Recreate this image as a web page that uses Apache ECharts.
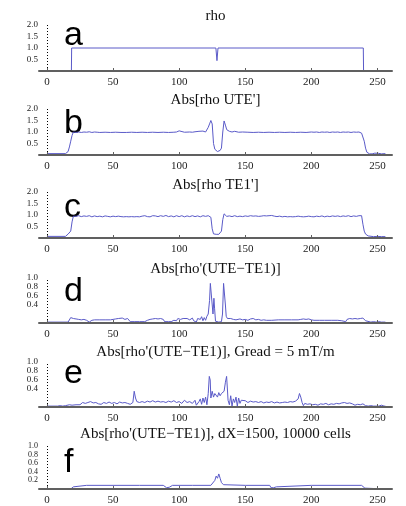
<!DOCTYPE html>
<html><head><meta charset="utf-8">
<script src="https://cdn.jsdelivr.net/npm/echarts@6/dist/echarts.min.js"></script>
<style>html,body{margin:0;padding:0;background:#fff}#c{width:406px;height:506px}</style>
</head><body><div id="c"></div>
<script>
const titles = ["rho", "Abs[rho UTE']", "Abs[rho TE1']", "Abs[rho'(UTE\u2212TE1)]", "Abs[rho'(UTE\u2212TE1)], Gread = 5 mT/m", "Abs[rho'(UTE\u2212TE1)], dX=1500, 10000 cells"];
const letters = ["a", "b", "c", "d", "e", "f"];
const xTicks = [0, 50, 100, 150, 200, 250];
const yTicks2 = [0.5, 1.0, 1.5, 2.0];
const yTicks1 = [0.4, 0.6, 0.8, 1.0];
const yTicksF = [0.2, 0.4, 0.6, 0.8, 1.0];

const rho = [[0,0],[18.5,0],[18.7,1],[127.8,1],[128.6,0.45],[129.4,1],[239.3,1],[239.5,0],[256,0]];

const rhoUTE = [[0,0.06],[14,0.06],[15,0.08],[16,0.15],[17,0.35],[18,0.6],[19,0.85],[20,1.0],[22,0.98],[24,1.0],[26,0.98],[28,1.0],[30,0.99],[32,1.01],[34,0.98],[36,1.0],[38,0.99],[40,0.98],[44,0.99],[48,0.98],[52,0.99],[56,0.98],[60,0.98],[64,0.99],[68,0.98],[72,0.99],[76,0.98],[80,0.99],[84,0.98],[88,0.99],[92,0.98],[96,0.99],[98,1.0],[100,1.05],[101,0.99],[104,0.99],[108,1.0],[110,0.99],[112,1.01],[115,1.03],[116,0.99],[118,1.04],[120,1.0],[121,1.05],[122,1.2],[123,1.35],[124,1.5],[125,1.35],[126,0.5],[127,0.25],[128,0.18],[129,0.15],[130,0.15],[131,0.2],[132,0.3],[133,1.0],[134,1.48],[135,1.3],[136,1.1],[137,1.05],[138,1.03],[139,1.05],[140,1.0],[142,1.03],[143,0.98],[145,0.99],[148,1.0],[152,0.99],[156,0.98],[160,0.99],[164,0.98],[168,0.99],[172,0.98],[176,0.99],[180,0.98],[184,0.99],[188,0.98],[192,0.99],[196,0.98],[200,1.0],[202,0.99],[204,1.0],[206,0.98],[208,1.0],[210,0.99],[212,1.0],[214,0.98],[216,1.0],[218,0.99],[220,1.0],[222,0.98],[224,1.0],[226,0.99],[228,1.0],[230,0.98],[232,1.0],[234,0.99],[236,1.0],[237,1.0],[238,0.95],[239,0.9],[240,0.6],[241,0.3],[242,0.12],[243,0.07],[244,0.05],[246,0.05],[248,0.08],[249,0.05],[251,0.07],[253,0.05],[256,0.06]];

const rhoTE1 = [[0,0.07],[14,0.07],[15,0.1],[16,0.17],[17,0.22],[18,0.3],[19,0.7],[20,0.95],[21,1.0],[22,0.94],[24,0.97],[26,0.93],[28,0.96],[30,0.94],[32,0.97],[34,0.92],[36,0.96],[38,0.93],[40,0.95],[42,0.92],[44,0.96],[46,0.94],[48,0.92],[50,0.95],[52,0.93],[54,0.95],[56,0.93],[58,0.92],[60,0.93],[62,0.92],[64,0.93],[66,0.92],[68,0.93],[70,0.92],[72,0.95],[74,0.97],[76,0.93],[78,0.92],[80,0.97],[82,0.96],[84,0.93],[86,0.97],[88,0.94],[90,0.98],[92,0.93],[94,0.96],[96,0.92],[98,0.97],[100,0.93],[102,0.97],[104,0.92],[106,0.96],[108,0.93],[110,0.97],[112,0.93],[114,0.96],[116,0.92],[118,0.97],[120,0.94],[122,0.97],[123,1.05],[124,0.9],[125,0.4],[126,0.18],[127,0.16],[128,0.16],[130,0.16],[131,0.18],[132,0.3],[133,0.8],[134,1.05],[135,0.98],[136,0.94],[138,0.96],[140,0.93],[142,0.97],[144,0.93],[146,0.95],[148,0.93],[150,0.96],[152,0.94],[154,0.97],[156,0.95],[158,0.96],[160,0.94],[162,0.95],[164,0.97],[166,0.96],[168,0.97],[170,0.98],[172,0.95],[174,0.93],[176,0.95],[178,0.92],[180,0.94],[182,0.92],[184,0.93],[186,0.92],[188,0.93],[190,0.95],[192,0.93],[194,0.92],[196,0.93],[198,0.95],[200,0.93],[202,0.92],[204,0.95],[206,0.93],[208,0.96],[210,0.92],[212,0.95],[214,0.93],[216,0.96],[218,0.94],[220,0.96],[222,0.93],[224,0.96],[226,0.94],[228,0.97],[230,0.93],[232,0.96],[234,0.94],[236,0.97],[237,0.92],[238,0.97],[239,0.6],[240,0.3],[241,0.17],[242,0.14],[243,0.09],[244,0.07],[247,0.06],[250,0.07],[253,0.06],[256,0.06]];

const diff = [[0,0.02],[16,0.02],[17,0.04],[18,0.12],[19,0.08],[20,0.1],[21,0.07],[22,0.09],[23,0.06],[24,0.08],[25,0.1],[26,0.07],[27,0.09],[28,0.08],[29,0.1],[30,0.06],[31,0.03],[32,0.02],[33,0.03],[34,0.06],[36,0.07],[40,0.07],[44,0.07],[48,0.07],[50,0.08],[52,0.09],[54,0.1],[55,0.08],[57,0.11],[59,0.08],[61,0.1],[62,0.07],[63,0.03],[66,0.03],[70,0.03],[74,0.03],[76,0.06],[78,0.08],[80,0.09],[82,0.1],[84,0.09],[86,0.1],[88,0.08],[89,0.03],[92,0.03],[94,0.03],[96,0.06],[97,0.09],[98,0.05],[99,0.1],[100,0.12],[101,0.08],[103,0.1],[104,0.06],[106,0.1],[107,0.12],[108,0.07],[110,0.11],[111,0.05],[112,0.09],[113,0.02],[114,0.1],[115,0.13],[116,0.08],[117,0.14],[118,0.05],[119,0.12],[120,0.06],[121,0.15],[122,0.2],[123,0.5],[123.6,0.88],[124.3,0.9],[125,0.85],[125.6,0.2],[126.3,0.55],[126.8,0.33],[127.5,0.04],[128,0.02],[130,0.02],[132,0.03],[132.8,0.2],[133.6,0.88],[134.4,0.88],[135,0.4],[135.6,0.15],[136.5,0.1],[137,0.14],[138,0.12],[139,0.1],[140,0.12],[141,0.08],[142,0.1],[143,0.07],[144,0.06],[146,0.09],[148,0.07],[150,0.08],[152,0.06],[154,0.09],[156,0.1],[158,0.07],[160,0.08],[162,0.06],[164,0.07],[166,0.06],[170,0.06],[175,0.07],[180,0.07],[185,0.07],[190,0.07],[192,0.08],[194,0.09],[196,0.08],[198,0.09],[200,0.07],[202,0.06],[206,0.06],[210,0.06],[215,0.06],[220,0.06],[223,0.05],[224,0.02],[226,0.03],[227,0.08],[229,0.1],[231,0.09],[233,0.1],[235,0.09],[237,0.1],[239,0.11],[240,0.13],[241,0.05],[242,0.02],[245,0.02],[247,0.03],[249,0.02],[251,0.03],[253,0.02],[256,0.02]];

const diffG = [[0,0.02],[8,0.02],[10,0.03],[12,0.02],[14,0.03],[15,0.06],[17,0.05],[19,0.04],[20,0.06],[22,0.05],[23,0.08],[25,0.05],[27,0.1],[29,0.08],[31,0.1],[33,0.12],[35,0.09],[37,0.1],[39,0.07],[41,0.06],[43,0.1],[45,0.08],[47,0.11],[49,0.08],[51,0.1],[53,0.07],[55,0.11],[57,0.09],[59,0.1],[61,0.08],[63,0.06],[64,0.02],[65,0.1],[66,0.35],[67,0.2],[68,0.12],[70,0.1],[72,0.12],[74,0.1],[76,0.13],[78,0.11],[80,0.14],[82,0.11],[84,0.13],[86,0.11],[88,0.12],[90,0.1],[92,0.13],[94,0.11],[96,0.14],[98,0.1],[100,0.12],[102,0.08],[104,0.15],[106,0.1],[108,0.12],[110,0.08],[112,0.15],[113,0.04],[114,0.02],[115,0.12],[116,0.18],[117,0.06],[118,0.2],[119,0.1],[120,0.22],[121,0.05],[122,0.3],[122.8,0.68],[123.5,0.6],[124,0.2],[125,0.35],[126,0.22],[127,0.3],[128,0.28],[129,0.22],[130,0.32],[131,0.25],[132,0.3],[133,0.27],[134,0.35],[135,0.55],[135.9,0.68],[136.5,0.4],[137,0.15],[138,0.05],[139,0.25],[140,0.02],[141,0.18],[142,0.1],[143,0.22],[144,0.02],[145,0.2],[146,0.08],[147,0.15],[148,0.12],[150,0.14],[152,0.1],[154,0.13],[156,0.11],[158,0.12],[160,0.1],[162,0.12],[164,0.09],[166,0.11],[168,0.1],[170,0.12],[172,0.09],[174,0.11],[176,0.09],[178,0.1],[180,0.11],[182,0.1],[184,0.12],[186,0.11],[188,0.13],[190,0.18],[191,0.3],[192,0.22],[193,0.1],[194,0.03],[195,0.08],[197,0.06],[199,0.07],[201,0.05],[203,0.06],[205,0.04],[207,0.07],[209,0.06],[211,0.08],[213,0.05],[215,0.07],[217,0.06],[219,0.08],[221,0.07],[223,0.09],[225,0.1],[227,0.08],[229,0.09],[231,0.07],[233,0.04],[235,0.06],[237,0.05],[239,0.07],[241,0.03],[243,0.02],[245,0.03],[247,0.02],[249,0.02],[251,0.02],[253,0.04],[255,0.02],[256,0.02]];

const diffD = [[0,0],[18,0],[19,0.02],[20,0.05],[21.5,0.085],[30,0.085],[50,0.085],[70,0.085],[88,0.085],[89.5,0.07],[90.5,0.03],[91.5,0.01],[92.5,0.04],[93.5,0.07],[95,0.085],[110,0.085],[124,0.085],[125.5,0.1],[127,0.2],[128,0.3],[129,0.25],[130,0.35],[131,0.25],[132,0.15],[133.5,0.1],[135,0.085],[150,0.085],[168.5,0.085],[169.5,0.03],[170.5,0.01],[171.5,0.03],[172.5,0.01],[173.5,0.05],[175,0.085],[200,0.085],[238,0.085],[239.5,0.06],[240.5,0.02],[242,0],[256,0]];

const panels = [rho, rhoUTE, rhoTE1, diff, diffG, diffD];
const yMax = [2, 2, 2, 1, 1, 1];
const yLabelSets = [yTicks2, yTicks2, yTicks2, yTicks1, yTicks1, yTicksF];
const yFont = [9, 9, 9, 9, 9, 8];

const gridTop = [25, 109, 192, 278, 362, 446];
const gridH = [46, 46, 46, 45, 45, 45];
const titleY = [16, 100, 185, 269, 352, 434];
const letterY = [36, 124, 208, 292, 374, 463];
const GL = 39, GW = 353;
const LINE = '#5a5ac8';
const SERIF = '"Liberation Serif", "DejaVu Serif", serif';

const grid = [], xAxis = [], yAxis = [], series = [], graphic = [];
panels.forEach((d, i) => {
  grid.push({left: GL, top: gridTop[i], width: GW, height: gridH[i]});
  xAxis.push({
    type: 'value', gridIndex: i, min: -6, max: 261, z: 5,
    axisLine: {lineStyle: {color: '#606060', width: 2}},
    axisTick: {inside: true, length: 3, lineStyle: {color: '#606060'}, customValues: xTicks},
    axisLabel: {customValues: xTicks, fontFamily: SERIF, fontSize: 11, color: '#222', margin: 6},
    splitLine: {show: false}
  });
  yAxis.push({
    type: 'value', gridIndex: i, min: 0, max: yMax[i],
    axisLine: {show: false}, axisTick: {show: false}, splitLine: {show: false},
    axisLabel: {customValues: yLabelSets[i], interval: 0, hideOverlap: false, showMinLabel: true, showMaxLabel: true,
      formatter: v => v.toFixed(1), fontFamily: SERIF, fontSize: yFont[i], lineHeight: yFont[i], color: '#222', margin: 1}
  });
  series.push({
    type: 'line', xAxisIndex: i, yAxisIndex: i, data: d, showSymbol: false, animation: false,
    lineStyle: {color: LINE, width: 1}, z: 2,
    markLine: {silent: true, symbol: ['none', 'none'], label: {show: false}, animation: false,
      lineStyle: {type: [1, 2], color: '#000', width: 1}, data: [{xAxis: 0}]}
  });
  graphic.push({type: 'text', x: 215.5, y: titleY[i], style: {text: titles[i], font: '15px ' + SERIF, fill: '#111', align: 'center', verticalAlign: 'middle'}});
  graphic.push({type: 'text', x: 64, y: letterY[i], style: {text: letters[i], font: '34px "Liberation Sans", Arial, sans-serif', fill: '#000', align: 'left', verticalAlign: 'middle'}});
});

const chart = echarts.init(document.getElementById('c'), null, {renderer: 'canvas'});
chart.setOption({backgroundColor: '#fff', animation: false, grid, xAxis, yAxis, series, graphic});
</script></body></html>
